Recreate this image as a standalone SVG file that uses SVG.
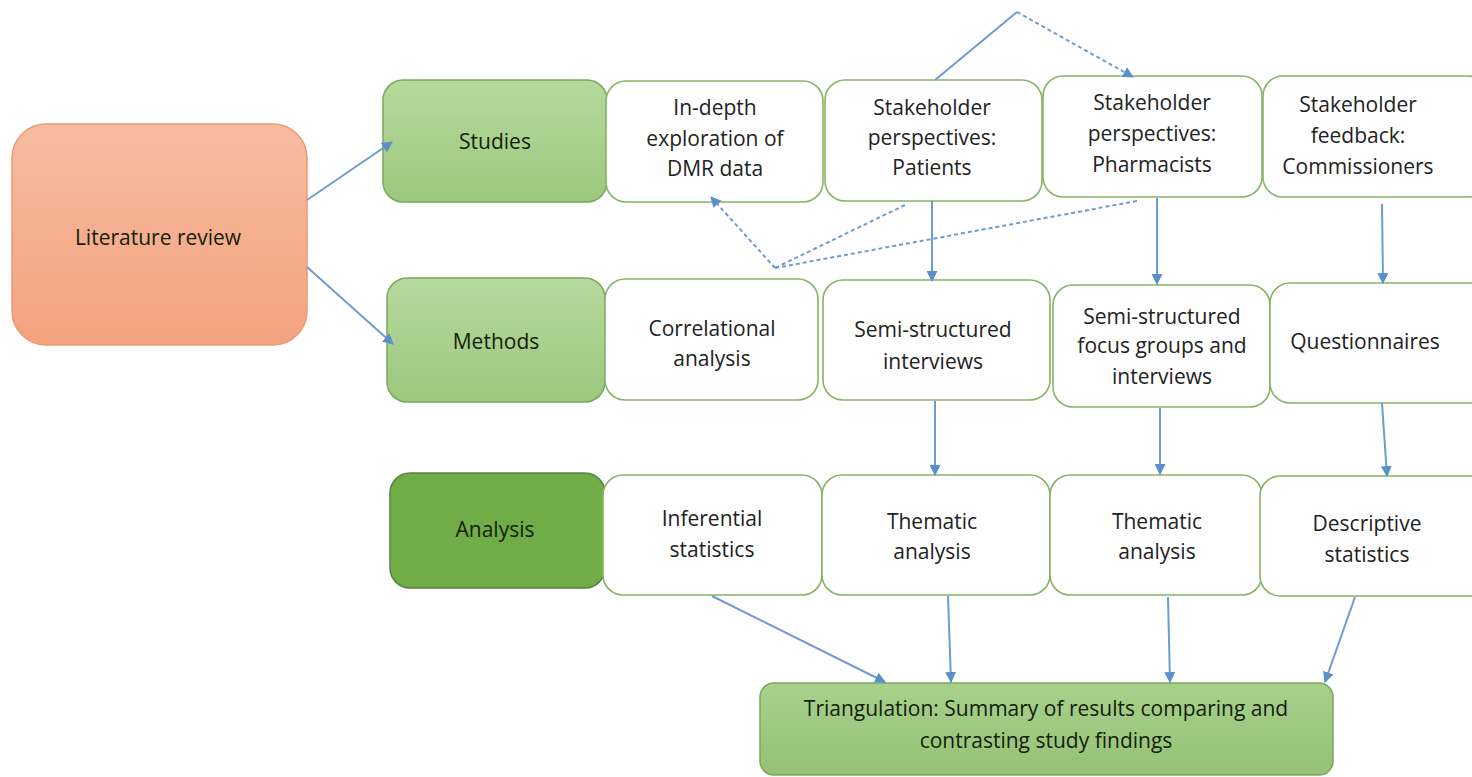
<svg xmlns="http://www.w3.org/2000/svg" width="1472" height="777" viewBox="0 0 1472 777">
<defs>
<linearGradient id="gLit" x1="0" y1="0" x2="0" y2="1"><stop offset="0" stop-color="#f6bca0"/><stop offset="1" stop-color="#f4a27f"/></linearGradient>
<linearGradient id="gLight" x1="0" y1="0" x2="0" y2="1"><stop offset="0" stop-color="#b6d99c"/><stop offset="1" stop-color="#9cc77e"/></linearGradient>
<linearGradient id="gTri" x1="0" y1="0" x2="0" y2="1"><stop offset="0" stop-color="#a8d08c"/><stop offset="1" stop-color="#95c276"/></linearGradient>
<marker id="ah" viewBox="0 0 10 10" refX="9" refY="5" markerWidth="11" markerHeight="11" orient="auto" markerUnits="userSpaceOnUse"><path d="M0,0 L10,5 L0,10 z" fill="#5b8fc9"/></marker>
<style>
.w{fill:#ffffff;stroke:#86b463;stroke-width:1.6}
.lab{stroke:#7aa85a;stroke-width:1.5}
.t{font-family:"Open Sans","Liberation Sans",sans-serif;font-size:21px;fill:#222;text-anchor:middle}
.tb{font-family:"Open Sans","Liberation Sans",sans-serif;font-size:21px;fill:#15200a;text-anchor:middle}
.c{stroke:#6d9dd0;stroke-width:2;fill:none;marker-end:url(#ah)}
.d{stroke:#6d9dd0;stroke-width:2;fill:none;stroke-dasharray:4 3}
</style>
</defs>
<rect width="1472" height="777" fill="#ffffff"/>

<g id="literature-review">
<rect x="12" y="124" width="295" height="221" rx="34" fill="url(#gLit)" stroke="#eb9a72" stroke-width="1.5"/>
<text class="tb" x="158" y="245">Literature review</text>
</g>

<g id="studies">
<rect class="lab" x="383" y="80" width="224" height="122" rx="20" fill="url(#gLight)"/>
<text class="tb" x="495" y="149">Studies</text>
</g>
<g id="methods">
<rect class="lab" x="387" y="278" width="218" height="124" rx="20" fill="url(#gLight)"/>
<text class="tb" x="496" y="349">Methods</text>
</g>
<g id="analysis">
<rect x="390" y="473" width="215" height="115" rx="20" fill="#70ad47" stroke="#5a7f45" stroke-width="1.5"/>
<text class="tb" x="495" y="537">Analysis</text>
</g>

<g id="in-depth">
<rect class="w" x="606" y="81" width="217" height="121" rx="20"/>
<text class="t" x="715" y="115">In-depth</text>
<text class="t" x="715" y="146">exploration of</text>
<text class="t" x="715" y="176">DMR data</text>
</g>
<g id="patients">
<rect class="w" x="825" y="80" width="217" height="121" rx="20"/>
<text class="t" x="932" y="115">Stakeholder</text>
<text class="t" x="932" y="145">perspectives:</text>
<text class="t" x="932" y="175">Patients</text>
</g>
<g id="pharmacists">
<rect class="w" x="1043" y="76" width="219" height="121" rx="20"/>
<text class="t" x="1152" y="110">Stakeholder</text>
<text class="t" x="1152" y="141">perspectives:</text>
<text class="t" x="1152" y="172">Pharmacists</text>
</g>
<g id="commissioners">
<rect class="w" x="1263" y="76" width="225" height="121" rx="20"/>
<text class="t" x="1358" y="112">Stakeholder</text>
<text class="t" x="1358" y="143">feedback:</text>
<text class="t" x="1358" y="174">Commissioners</text>
</g>

<g id="correlational">
<rect class="w" x="605" y="279" width="213" height="121" rx="20"/>
<text class="t" x="712" y="336">Correlational</text>
<text class="t" x="712" y="366">analysis</text>
</g>
<g id="semi-interviews">
<rect class="w" x="823" y="280" width="227" height="120" rx="20"/>
<text class="t" x="933" y="337">Semi-structured</text>
<text class="t" x="933" y="369">interviews</text>
</g>
<g id="focus-groups">
<rect class="w" x="1053" y="285" width="217" height="122" rx="20"/>
<text class="t" x="1162" y="324">Semi-structured</text>
<text class="t" x="1162" y="353">focus groups and</text>
<text class="t" x="1162" y="384">interviews</text>
</g>
<g id="questionnaires">
<rect class="w" x="1270" y="283" width="220" height="120" rx="20"/>
<text class="t" x="1365" y="349">Questionnaires</text>
</g>

<g id="inferential">
<rect class="w" x="603" y="475" width="219" height="120" rx="20"/>
<text class="t" x="712" y="526">Inferential</text>
<text class="t" x="712" y="557">statistics</text>
</g>
<g id="thematic-1">
<rect class="w" x="822" y="475" width="228" height="120" rx="20"/>
<text class="t" x="932" y="529">Thematic</text>
<text class="t" x="932" y="559">analysis</text>
</g>
<g id="thematic-2">
<rect class="w" x="1050" y="475" width="212" height="120" rx="20"/>
<text class="t" x="1157" y="529">Thematic</text>
<text class="t" x="1157" y="559">analysis</text>
</g>
<g id="descriptive">
<rect class="w" x="1260" y="476" width="230" height="120" rx="20"/>
<text class="t" x="1367" y="531">Descriptive</text>
<text class="t" x="1367" y="562">statistics</text>
</g>

<g id="triangulation">
<rect x="760" y="683" width="573" height="92" rx="14" fill="url(#gTri)" stroke="#7aa85a" stroke-width="1.5"/>
<text class="tb" x="1046" y="716">Triangulation: Summary of results comparing and</text>
<text class="tb" x="1046" y="748">contrasting study findings</text>
</g>

<g id="connectors">
<line class="c" x1="307" y1="200" x2="392" y2="142"/>
<line class="c" x1="307" y1="267" x2="393" y2="344"/>
<line x1="935" y1="80" x2="1017" y2="12" stroke="#6d9dd0" stroke-width="2"/>
<line class="d" x1="1017" y1="12" x2="1133" y2="77" marker-end="url(#ah)"/>
<line class="d" x1="905" y1="205" x2="775" y2="268"/>
<line class="d" x1="1137" y1="201" x2="775" y2="268"/>
<line class="d" x1="775" y1="268" x2="711" y2="197" marker-end="url(#ah)"/>
<line class="c" x1="932" y1="201" x2="932" y2="281"/>
<line class="c" x1="1157" y1="198" x2="1157" y2="284"/>
<line class="c" x1="1382" y1="204" x2="1383" y2="283"/>
<line class="c" x1="935" y1="401" x2="935" y2="475"/>
<line class="c" x1="1160" y1="408" x2="1160" y2="474"/>
<line class="c" x1="1382" y1="403" x2="1387" y2="476"/>
<line class="c" x1="712" y1="596" x2="885" y2="682"/>
<line class="c" x1="948" y1="596" x2="951" y2="682"/>
<line class="c" x1="1168" y1="597" x2="1170" y2="682"/>
<line class="c" x1="1355" y1="597" x2="1325" y2="682"/>
</g>
</svg>
